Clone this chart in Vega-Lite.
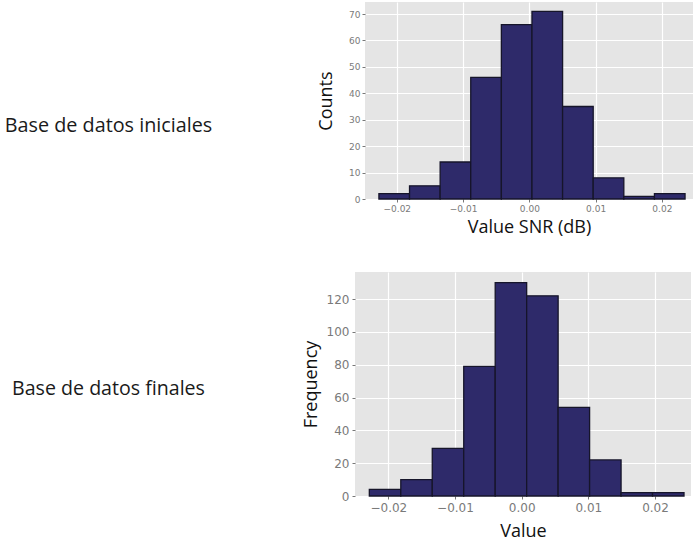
{
  "$schema": "https://vega.github.io/schema/vega-lite/v6.json",
  "padding": {"left": 0, "top": 2, "right": 0, "bottom": 0},
  "background": "white",
  "datasets": {
    "initial": [
      {"bin_start": -0.0227, "bin_end": -0.01808, "count": 2},
      {"bin_start": -0.01808, "bin_end": -0.01346, "count": 5},
      {"bin_start": -0.01346, "bin_end": -0.00884, "count": 14},
      {"bin_start": -0.00884, "bin_end": -0.00422, "count": 46},
      {"bin_start": -0.00422, "bin_end": 0.0004, "count": 66},
      {"bin_start": 0.0004, "bin_end": 0.00502, "count": 71},
      {"bin_start": 0.00502, "bin_end": 0.00964, "count": 35},
      {"bin_start": 0.00964, "bin_end": 0.01426, "count": 8},
      {"bin_start": 0.01426, "bin_end": 0.01888, "count": 1},
      {"bin_start": 0.01888, "bin_end": 0.0235, "count": 2}
    ],
    "final": [
      {"bin_start": -0.02285, "bin_end": -0.01813, "count": 4},
      {"bin_start": -0.01813, "bin_end": -0.01341, "count": 10},
      {"bin_start": -0.01341, "bin_end": -0.00869, "count": 29},
      {"bin_start": -0.00869, "bin_end": -0.00397, "count": 79},
      {"bin_start": -0.00397, "bin_end": 0.00075, "count": 130},
      {"bin_start": 0.00075, "bin_end": 0.00547, "count": 122},
      {"bin_start": 0.00547, "bin_end": 0.01019, "count": 54},
      {"bin_start": 0.01019, "bin_end": 0.01491, "count": 22},
      {"bin_start": 0.01491, "bin_end": 0.01963, "count": 2},
      {"bin_start": 0.01963, "bin_end": 0.02435, "count": 2}
    ],
    "label1": [{"label": "Base de datos iniciales"}],
    "label2": [{"label": "Base de datos finales"}]
  },
  "config": {
    "view": {"stroke": null},
    "axis": {
      "domain": false,
      "grid": true,
      "gridColor": "#FFFFFF",
      "gridWidth": 1.2,
      "tickColor": "#777777",
      "tickSize": 3,
      "labelFont": "DejaVu Sans",
      "labelColor": "#7a7a7a",
      "titleFont": "Open Sans",
      "titleFontWeight": "normal",
      "titleColor": "#111111"
    }
  },
  "vconcat": [
    {
      "hconcat": [
        {
          "data": {"name": "label1"},
          "width": 217,
          "height": 248,
          "mark": {"type": "text", "font": "Open Sans", "fontSize": 19.8, "color": "#1a1a1a", "align": "center", "baseline": "middle"},
          "encoding": {"text": {"field": "label", "type": "nominal"}}
        },
        {
          "data": {"name": "initial"},
          "width": 328,
          "height": 197,
          "view": {"fill": "#E5E5E5", "stroke": null},
          "mark": {"type": "bar", "color": "#2E2A6A", "stroke": "#16152a", "strokeWidth": 1.3},
          "encoding": {
            "x": {
              "field": "bin_start", "type": "quantitative",
              "scale": {"domain": [-0.0248, 0.0247], "nice": false, "zero": false},
              "axis": {"values": [-0.02, -0.01, 0, 0.01, 0.02], "format": ".2f", "labelFontSize": 9, "labelPadding": 2, "title": "Value SNR (dB)", "titleFontSize": 18, "titlePadding": 5}
            },
            "x2": {"field": "bin_end"},
            "y": {
              "field": "count", "type": "quantitative",
              "scale": {"domain": [0, 74.55], "nice": false},
              "axis": {"values": [0, 10, 20, 30, 40, 50, 60, 70], "labelFontSize": 9, "labelPadding": 2, "title": "Counts", "titleFontSize": 18, "titlePadding": 13}
            },
            "y2": {"datum": 0}
          }
        }
      ],
      "spacing": 100
    },
    {
      "hconcat": [
        {
          "data": {"name": "label2"},
          "width": 217,
          "height": 234,
          "mark": {"type": "text", "font": "Open Sans", "fontSize": 19.6, "color": "#1a1a1a", "align": "center", "baseline": "middle"},
          "encoding": {"text": {"field": "label", "type": "nominal"}}
        },
        {
          "data": {"name": "final"},
          "width": 336,
          "height": 224,
          "view": {"fill": "#E5E5E5", "stroke": null},
          "mark": {"type": "bar", "color": "#2E2A6A", "stroke": "#16152a", "strokeWidth": 1.3},
          "encoding": {
            "x": {
              "field": "bin_start", "type": "quantitative",
              "scale": {"domain": [-0.025, 0.0254], "nice": false, "zero": false},
              "axis": {"values": [-0.02, -0.01, 0, 0.01, 0.02], "format": ".2f", "labelFontSize": 12, "labelPadding": 3, "title": "Value", "titleFontSize": 18, "titlePadding": 9}
            },
            "x2": {"field": "bin_end"},
            "y": {
              "field": "count", "type": "quantitative",
              "scale": {"domain": [0, 136.5], "nice": false},
              "axis": {"values": [0, 20, 40, 60, 80, 100, 120], "labelFontSize": 12, "labelPadding": 3, "title": "Frequency", "titleFontSize": 18, "titlePadding": 6}
            },
            "y2": {"datum": 0}
          }
        }
      ],
      "spacing": 85
    }
  ],
  "spacing": 22
}
